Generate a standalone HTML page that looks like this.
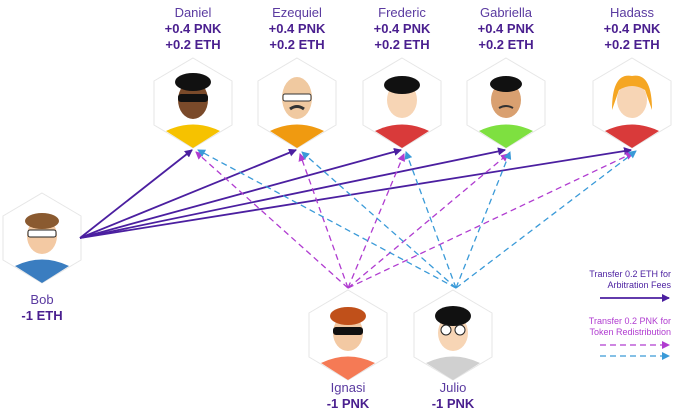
<!DOCTYPE html>
<html><head><style>
body{margin:0;width:681px;height:416px;background:#fff;overflow:hidden;font-family:"Liberation Sans",sans-serif}
.t{position:absolute;text-align:center;color:#4a1f8f;font-size:13px;line-height:16px;font-weight:bold;width:120px}
.t span{font-weight:normal;color:#5a3aa0}
.lg{position:absolute;right:10px;text-align:right;font-size:9px;line-height:11px}
</style></head><body>
<svg width="681" height="416" style="position:absolute;left:0;top:0">
<defs>
<marker id="ap" markerWidth="8" markerHeight="8" refX="7" refY="4" orient="auto" markerUnits="userSpaceOnUse"><path d="M0,0L8,4L0,8z" fill="#4b1fa0"/></marker>
<marker id="am" markerWidth="8" markerHeight="8" refX="7" refY="4" orient="auto" markerUnits="userSpaceOnUse"><path d="M0,0L8,4L0,8z" fill="#b03cd0"/></marker>
<marker id="ab" markerWidth="8" markerHeight="8" refX="7" refY="4" orient="auto" markerUnits="userSpaceOnUse"><path d="M0,0L8,4L0,8z" fill="#3a9ad8"/></marker>
<g id="hex"><polygon points="0,-45 39,-22 39,22 0,45 -39,22 -39,-22" fill="#fff" stroke="#e6e6e6"/></g>
</defs>
<g>
<use href="#hex" x="193" y="103"/><use href="#hex" x="297" y="103"/><use href="#hex" x="402" y="103"/><use href="#hex" x="506" y="103"/><use href="#hex" x="632" y="103"/><use href="#hex" x="42" y="238"/><use href="#hex" x="348" y="335"/><use href="#hex" x="453" y="335"/>
</g>
<g>
<path d="M166,131 Q193,118 220,131 L193,148z" fill="#f6c200"/>
<path d="M270,131 Q297,118 324,131 L297,148z" fill="#f09a10"/>
<path d="M375,131 Q402,118 429,131 L402,148z" fill="#d93a3a"/>
<path d="M479,131 Q506,118 533,131 L506,148z" fill="#7ee040"/>
<path d="M605,131 Q632,118 659,131 L632,148z" fill="#d93a3a"/>
<path d="M15,266 Q42,253 69,266 L42,283z" fill="#3a7dc0"/>
<path d="M321,363 Q348,350 375,363 L348,380z" fill="#f57a55"/>
<path d="M426,363 Q453,350 480,363 L453,380z" fill="#d0d0d0"/>
<ellipse cx="193" cy="100" rx="15" ry="19" fill="#7a4a2a"/><ellipse cx="193" cy="82" rx="18" ry="9" fill="#111"/><rect x="178" y="94" width="30" height="8" rx="3" fill="#111"/>
<ellipse cx="297" cy="98" rx="15" ry="21" fill="#f0c9a0"/><rect x="283" y="94" width="28" height="7" rx="2" fill="#fff" stroke="#333"/><path d="M290,109 Q297,104 304,109" stroke="#333" stroke-width="3" fill="none"/>
<ellipse cx="402" cy="100" rx="15" ry="18" fill="#f7d5b5"/><ellipse cx="402" cy="85" rx="18" ry="9" fill="#111"/>
<ellipse cx="506" cy="100" rx="15" ry="18" fill="#d9a070"/><ellipse cx="506" cy="84" rx="16" ry="8" fill="#111"/><path d="M499,108 Q506,104 513,108" stroke="#333" stroke-width="2" fill="none"/>
<ellipse cx="632" cy="100" rx="15" ry="18" fill="#f7d5b5"/><path d="M612,110 Q612,72 632,76 Q652,72 652,110 L645,90 Q632,82 619,90z" fill="#f5a623"/>
<ellipse cx="42" cy="236" rx="15" ry="18" fill="#f3c9a3"/><ellipse cx="42" cy="221" rx="17" ry="8" fill="#8a5a30"/><rect x="28" y="230" width="28" height="7" rx="2" fill="#fff" stroke="#222"/>
<ellipse cx="348" cy="333" rx="15" ry="18" fill="#f3c9a3"/><ellipse cx="348" cy="316" rx="18" ry="9" fill="#c0501a"/><rect x="333" y="327" width="30" height="8" rx="3" fill="#111"/>
<ellipse cx="453" cy="333" rx="15" ry="18" fill="#f7d5b5"/><ellipse cx="453" cy="316" rx="18" ry="10" fill="#111"/><circle cx="446" cy="330" r="5" fill="#fff" stroke="#222"/><circle cx="460" cy="330" r="5" fill="#fff" stroke="#222"/>
</g>
<g stroke="#4b1fa0" stroke-width="1.8" fill="none" marker-end="url(#ap)">
<line x1="80" y1="238" x2="192" y2="150"/><line x1="80" y1="238" x2="296" y2="150"/><line x1="80" y1="238" x2="401" y2="150"/><line x1="80" y1="238" x2="505" y2="150"/><line x1="80" y1="238" x2="631" y2="150"/>
</g>
<g stroke="#b03cd0" stroke-width="1.3" stroke-dasharray="6,4" fill="none">
<line x1="348" y1="288" x2="196" y2="152" marker-end="url(#am)"/><line x1="348" y1="288" x2="300" y2="154" marker-end="url(#am)"/><line x1="348" y1="288" x2="404" y2="154" marker-end="url(#am)"/><line x1="348" y1="288" x2="508" y2="154" marker-end="url(#am)"/><line x1="348" y1="288" x2="633" y2="153" marker-end="url(#am)"/>
</g>
<g stroke="#3a9ad8" stroke-width="1.3" stroke-dasharray="6,4" fill="none">
<line x1="456" y1="288" x2="198" y2="150" marker-end="url(#ab)"/><line x1="456" y1="288" x2="302" y2="152" marker-end="url(#ab)"/><line x1="456" y1="288" x2="406" y2="152" marker-end="url(#ab)"/><line x1="456" y1="288" x2="510" y2="152" marker-end="url(#ab)"/><line x1="456" y1="288" x2="636" y2="151" marker-end="url(#ab)"/>
</g>
<line x1="600" y1="298" x2="669" y2="298" stroke="#4b1fa0" stroke-width="1.8" marker-end="url(#ap)"/>
<line x1="600" y1="345" x2="669" y2="345" stroke="#b03cd0" stroke-width="1.3" stroke-dasharray="6,4" marker-end="url(#am)"/>
<line x1="600" y1="356" x2="669" y2="356" stroke="#3a9ad8" stroke-width="1.3" stroke-dasharray="6,4" marker-end="url(#ab)"/>
</svg>
<div class="t" style="left:133px;top:5px"><span>Daniel</span><br>+0.4 PNK<br>+0.2 ETH</div>
<div class="t" style="left:237px;top:5px"><span>Ezequiel</span><br>+0.4 PNK<br>+0.2 ETH</div>
<div class="t" style="left:342px;top:5px"><span>Frederic</span><br>+0.4 PNK<br>+0.2 ETH</div>
<div class="t" style="left:446px;top:5px"><span>Gabriella</span><br>+0.4 PNK<br>+0.2 ETH</div>
<div class="t" style="left:572px;top:5px"><span>Hadass</span><br>+0.4 PNK<br>+0.2 ETH</div>
<div class="t" style="left:-18px;top:292px"><span>Bob</span><br>-1 ETH</div>
<div class="t" style="left:288px;top:380px"><span>Ignasi</span><br>-1 PNK</div>
<div class="t" style="left:393px;top:380px"><span>Julio</span><br>-1 PNK</div>
<div class="lg" style="top:269px;color:#4b1fa0">Transfer 0.2 ETH for<br>Arbitration Fees</div>
<div class="lg" style="top:316px;color:#b03cd0">Transfer 0.2 PNK for<br>Token Redistribution</div>
</body></html>
